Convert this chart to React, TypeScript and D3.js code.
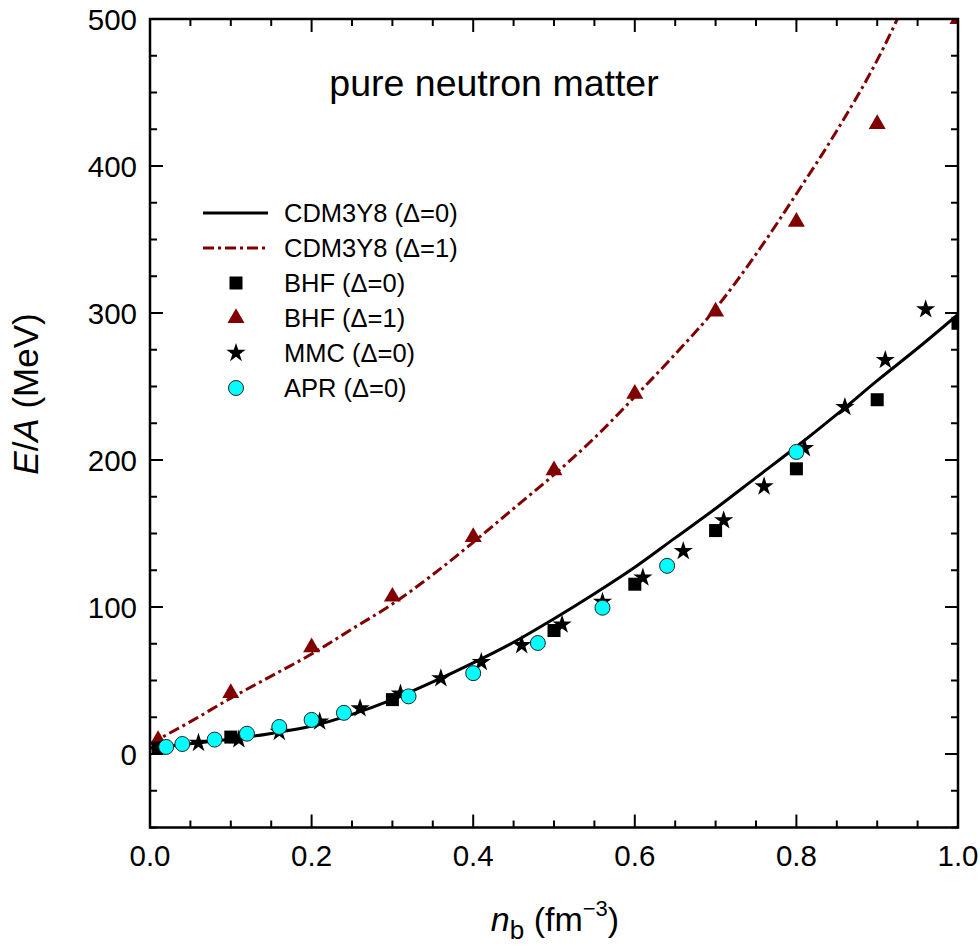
import React from "react";
import * as d3 from "d3";

// ---- data ----
const cdmD0X = [0.0, 0.05, 0.1, 0.15, 0.2, 0.25, 0.3, 0.35, 0.4, 0.45, 0.5, 0.55, 0.6, 0.65, 0.7, 0.75, 0.8, 0.85, 0.9, 0.95, 1.0];
const cdmD0Y = [4, 7, 10, 14, 19, 27, 37, 49, 62, 76, 92, 109, 127, 147, 167, 188, 209, 231, 254, 276, 299];
const cdmD1X = [0.0, 0.05, 0.1, 0.15, 0.2, 0.25, 0.3, 0.35, 0.4, 0.45, 0.5, 0.55, 0.6, 0.65, 0.7, 0.75, 0.8, 0.85, 0.9, 0.95];
const cdmD1Y = [7, 22, 38, 53, 68, 85, 102, 122, 144, 167, 190, 215, 243, 272, 303, 340, 381, 424, 472, 530];
const bhf0X = [0.01, 0.1, 0.3, 0.5, 0.6, 0.7, 0.8, 0.9, 1.0];
const bhf0Y = [4, 11.5, 37, 84, 115.5, 152, 194, 241, 293];
const bhf1X = [0.01, 0.1, 0.2, 0.3, 0.4, 0.5, 0.6, 0.7, 0.8, 0.9, 1.0];
const bhf1Y = [9.5, 41.5, 72.5, 107, 147.5, 193, 245, 301, 362, 428.5, 500];
const mmcX = [0.06, 0.11, 0.16, 0.21, 0.26, 0.31, 0.36, 0.41, 0.46, 0.51, 0.56, 0.61, 0.66, 0.71, 0.76, 0.81, 0.86, 0.91, 0.96];
const mmcY = [7.5, 10, 15, 22, 31, 41, 51.5, 62.5, 74, 88, 103.5, 120, 138, 159, 182, 208, 236, 268, 302.5];
const aprX = [0.02, 0.04, 0.08, 0.12, 0.16, 0.2, 0.24, 0.32, 0.4, 0.48, 0.56, 0.64, 0.8];
const aprY = [4.8, 6.8, 9.8, 13.8, 18.4, 23.2, 28, 39.2, 55, 75.5, 99.5, 128, 205.5];

const xMajor = [0.0, 0.2, 0.4, 0.6, 0.8, 1.0];
const xMajorLabels = ["0.0", "0.2", "0.4", "0.6", "0.8", "1.0"];
const yMajor = [0, 100, 200, 300, 400, 500];
const yMajorLabels = ["0", "100", "200", "300", "400", "500"];

const legendLabels = ["CDM3Y8 (\u0394=0)", "CDM3Y8 (\u0394=1)", "BHF (\u0394=0)", "BHF (\u0394=1)", "MMC (\u0394=0)", "APR (\u0394=0)"];

const W = 980, H = 946;
const L = 150, R = 958, T = 19, B = 827.5;
const DARKRED = "#800000";
const FONT = "'Liberation Sans', Arial, Helvetica, sans-serif";

export default function App() {
  const x = d3.scaleLinear().domain([0, 1]).range([L, R]);
  const y = d3.scaleLinear().domain([-50, 500]).range([B, T]);
  const line = d3.line<[number, number]>().x(d => x(d[0])).y(d => y(d[1])).curve(d3.curveMonotoneX);
  const zip = (a: number[], b: number[]) => a.map((v, i) => [v, b[i]] as [number, number]);

  const xMinor = d3.range(0, 1.0001, 0.05);
  const yMinor = d3.range(-50, 500.001, 25);

  const star = d3.symbol().type(d3.symbolStar).size(115)()!;
  const tri = d3.symbol().type(d3.symbolTriangle).size(125)()!;
  const sq = 13;

  const Square = ({ cx, cy }: { cx: number; cy: number }) => (
    <rect x={cx - sq / 2} y={cy - sq / 2} width={sq} height={sq} fill="#000" />
  );
  const Tri = ({ cx, cy }: { cx: number; cy: number }) => (
    <path d={tri} transform={`translate(${cx},${cy})`} fill={DARKRED} />
  );
  const Star = ({ cx, cy }: { cx: number; cy: number }) => (
    <path d={star} transform={`translate(${cx},${cy})`} fill="#000" />
  );
  const Circ = ({ cx, cy }: { cx: number; cy: number }) => (
    <circle cx={cx} cy={cy} r={7.5} fill="#00FFFF" stroke="#222" strokeWidth={1} />
  );

  const legY = [213, 248, 283, 318, 353, 388];

  return (
    <svg width={W} height={H} style={{ position: "absolute", left: 0, top: 0, background: "#fff" }} fontFamily={FONT}>
      <defs>
        <clipPath id="plot">
          <rect x={L} y={T} width={R - L} height={B - T} />
        </clipPath>
      </defs>
      <rect x={0} y={0} width={W} height={H} fill="#fff" />

      {/* curves */}
      <g clipPath="url(#plot)">
        <path d={line(zip(cdmD1X, cdmD1Y))!} fill="none" stroke={DARKRED} strokeWidth={3} strokeDasharray="11,4,3,4" />
        <path d={line(zip(cdmD0X, cdmD0Y))!} fill="none" stroke="#000" strokeWidth={3} />
      </g>

      {/* markers */}
      <g clipPath="url(#plot)">
        {bhf1X.map((v, i) => <Tri key={"t" + i} cx={x(v)} cy={y(bhf1Y[i])} />)}
        {bhf0X.map((v, i) => <Square key={"s" + i} cx={x(v)} cy={y(bhf0Y[i])} />)}
        {mmcX.map((v, i) => <Star key={"st" + i} cx={x(v)} cy={y(mmcY[i])} />)}
        {aprX.map((v, i) => <Circ key={"c" + i} cx={x(v)} cy={y(aprY[i])} />)}
      </g>

      {/* axes frame */}
      <rect x={L} y={T} width={R - L} height={B - T} fill="none" stroke="#000" strokeWidth={2.5} />
      {xMinor.map((v, i) => {
        const major = Math.abs(v * 5 - Math.round(v * 5)) < 1e-6;
        const len = major ? 13 : 7;
        return (
          <g key={"xt" + i} stroke="#000" strokeWidth={2}>
            <line x1={x(v)} x2={x(v)} y1={B} y2={B - len} />
            <line x1={x(v)} x2={x(v)} y1={T} y2={T + len} />
          </g>
        );
      })}
      {yMinor.map((v, i) => {
        const major = v % 100 === 0;
        const len = major ? 13 : 7;
        return (
          <g key={"yt" + i} stroke="#000" strokeWidth={2}>
            <line x1={L} x2={L + len} y1={y(v)} y2={y(v)} />
            <line x1={R} x2={R - len} y1={y(v)} y2={y(v)} />
          </g>
        );
      })}
      {xMajor.map((v, i) => (
        <text key={"xl" + i} x={x(v)} y={866} fontSize={29.5} textAnchor="middle" fill="#000">{xMajorLabels[i]}</text>
      ))}
      {yMajor.map((v, i) => (
        <text key={"yl" + i} x={137} y={y(v) + 10.5} fontSize={29.5} textAnchor="end" fill="#000">{yMajorLabels[i]}</text>
      ))}

      {/* axis titles */}
      <text transform="translate(38,394) rotate(-90)" fontSize={35} textAnchor="middle" fill="#000">
        <tspan fontStyle="italic">E</tspan>/<tspan fontStyle="italic">A</tspan> (MeV)
      </text>
      <text x={555} y={931} fontSize={34} textAnchor="middle" fill="#000" fontFamily="'Liberation Sans Narrow', 'Liberation Sans', Arial, sans-serif">
        <tspan fontStyle="italic">n</tspan>
        <tspan fontSize={26} dy={8}>b</tspan>
        <tspan dy={-8}> (fm</tspan>
        <tspan fontSize={22} dy={-15}>{"\u22123"}</tspan>
        <tspan dy={15}>)</tspan>
      </text>

      {/* title */}
      <text x={494} y={96} fontSize={37.5} textAnchor="middle" fill="#000">pure neutron matter</text>

      {/* legend */}
      <line x1={203} x2={268} y1={legY[0]} y2={legY[0]} stroke="#000" strokeWidth={3} />
      <line x1={203} x2={268} y1={legY[1]} y2={legY[1]} stroke={DARKRED} strokeWidth={3} strokeDasharray="11,4,3,4" />
      <Square cx={236} cy={legY[2]} />
      <Tri cx={236} cy={legY[3]} />
      <Star cx={236} cy={legY[4]} />
      <Circ cx={236} cy={legY[5]} />
      {legendLabels.map((t, i) => (
        <text key={"lg" + i} x={284} y={legY[i] + 9} fontSize={25.5} fill="#000">{t}</text>
      ))}
    </svg>
  );
}
